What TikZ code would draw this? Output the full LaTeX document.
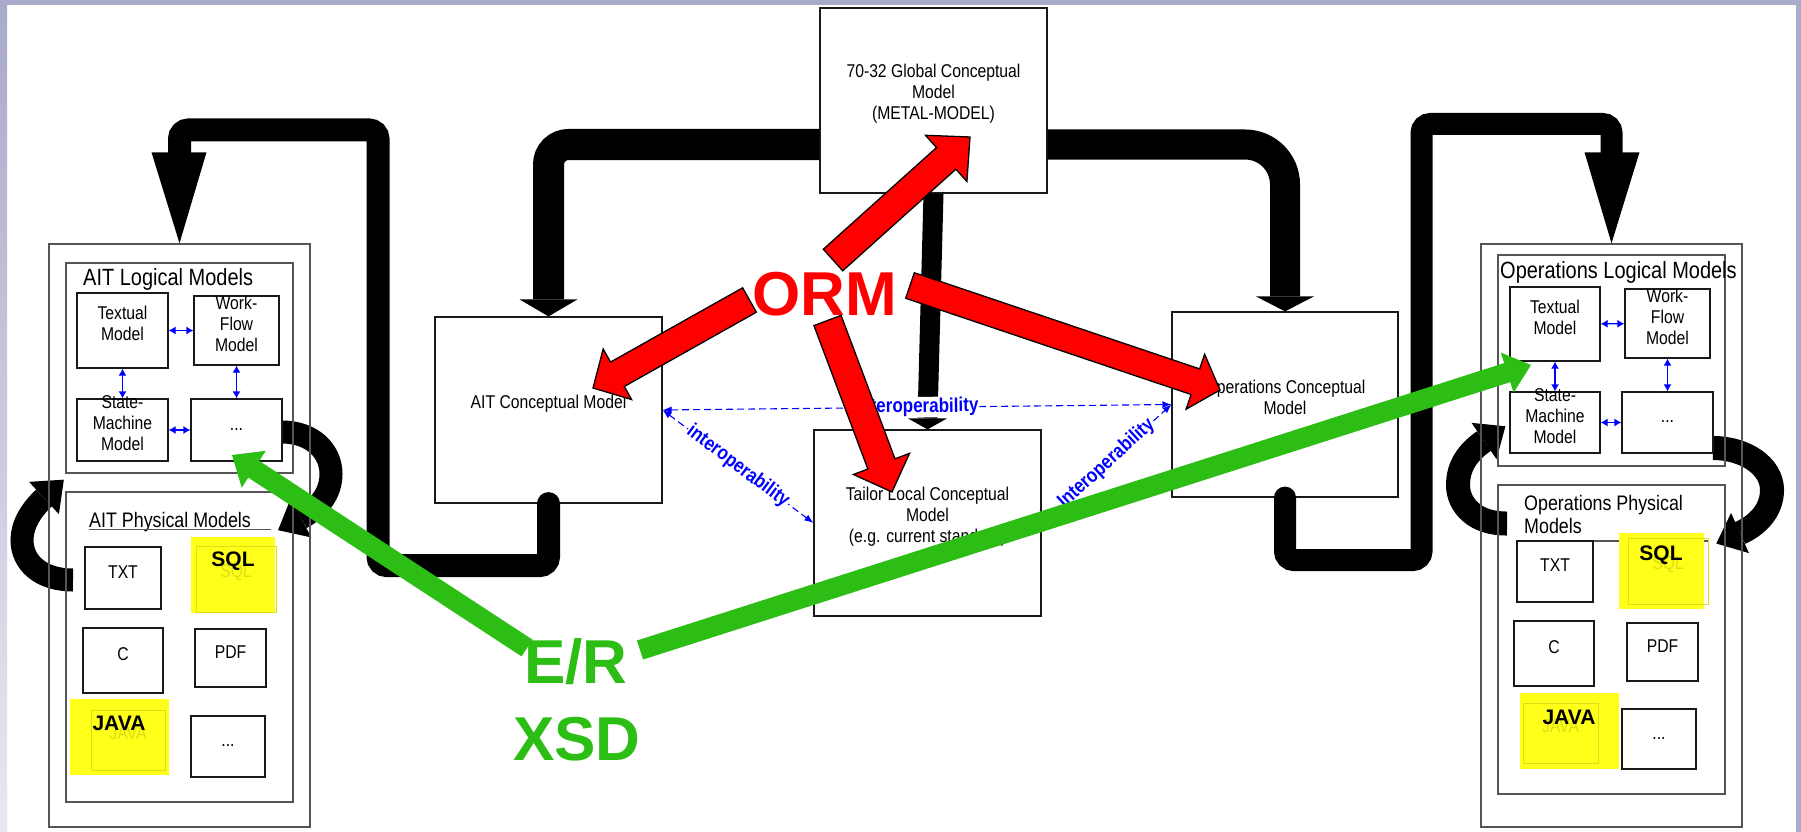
\documentclass[tikz,border=0pt]{standalone}
\usepackage{fontspec}
\setmainfont{Liberation Sans}
\newfontfamily\lab[FakeStretch=0.85]{Liberation Sans}
\usetikzlibrary{calc,fit,arrows.meta}

\definecolor{frame}{RGB}{170,170,202}
\definecolor{framelight}{RGB}{232,232,242}
\definecolor{edge}{RGB}{25,25,25}
\definecolor{groupedge}{RGB}{85,85,85}
\definecolor{hl}{RGB}{255,255,25}
\definecolor{faint}{RGB}{222,222,20}
\definecolor{ormred}{RGB}{255,0,0}
\definecolor{ergreen}{RGB}{44,190,20}
\definecolor{iop}{RGB}{0,0,255}

% block arrow: style, tail, tip, half shaft width, half head width, head length
\newcommand\blockarrow[6]{%
  \coordinate (ba-base) at ($(#3)!#6!(#2)$);
  \filldraw[#1] ($(#2)!#4!90:(#3)$) -- ($(ba-base)!#4!90:(#3)$)
    -- ($(ba-base)!#5!90:(#3)$) -- (#3)
    -- ($(ba-base)!#5!-90:(#3)$) -- ($(ba-base)!#4!-90:(#3)$)
    -- ($(#2)!#4!-90:(#3)$) -- cycle;
}
% head of a thick bent arrow: base point, point behind it, half width, length
\newcommand\bendhead[4]{%
  \fill ($(#1)!#3!90:(#2)$) -- ($(#1)!-#4!(#2)$) -- ($(#1)!#3!-90:(#2)$) -- cycle;
}

\begin{document}
\begin{tikzpicture}[x=1pt,y=-1pt,
  lbl/.style={font=\lab\fontsize{18.5}{21}\selectfont},
  box/.style={draw=edge, line width=1.2pt, fill=white, inner sep=0pt, align=center, lbl},
  group/.style={draw=groupedge, line width=1.4pt, inner sep=0pt},
  hlbox/.style={fill=hl, inner sep=0pt},
  faintbox/.style={draw=faint, line width=1pt, inner sep=0pt, lbl, text=faint},
  tag/.style={font=\bfseries\fontsize{21}{24}\selectfont, inner sep=0pt},
  title/.style={anchor=base west, inner sep=0pt, font=\lab\fontsize{23.5}{26}\selectfont},
  subtitle/.style={anchor=base west, inner sep=0pt, font=\lab\fontsize{21}{23}\selectfont},
  bidir/.style={iop, line width=1.2pt, {Latex[length=7pt,width=8pt]}-{Latex[length=7pt,width=8pt]}},
  iopline/.style={iop, line width=1.1pt, dash pattern=on 7pt off 4pt,
    {Latex[length=9pt,width=7pt]}-{Latex[length=9pt,width=7pt]}},
  ioplabel/.style={fill=white, inner sep=1pt, text=iop, sloped,
    font=\lab\bfseries\fontsize{20}{22}\selectfont},
  flowline/.style={draw=black, line width=#1},
  ormarrow/.style={fill=ormred, draw=black, line width=1.3pt, line join=miter},
  erarrow/.style={fill=ergreen, draw=none},
  bigword/.style={font=\bfseries\fontsize{62}{62}\selectfont, anchor=base, inner sep=0pt},
]
\useasboundingbox (0,0) rectangle (1801,832);

% page frame
\fill[white] (0,0) rectangle (1801,832);
\fill[frame] (0,0) rectangle (1801,5);
\shade[top color=frame, bottom color=framelight] (0,5) rectangle (7,832);
\fill[frame] (1796,0) rectangle (1801,832);

% conceptual models
\node[box, fit={(820,8) (1047,193)}] (global) {70-32 Global Conceptual\\Model\\(METAL-MODEL)};
\node[box, fit={(435,317) (662,503)}] (aitConc) {AIT Conceptual Model};
\node[box, fit={(1172,312) (1398,497)}] (opsConc) {Operations Conceptual\\Model};
\node[box, fit={(814,430) (1041,616)}] (tailor) {Tailor Local Conceptual\\Model\\(e.g. current standard)};

% derivation from the global model
\draw[flowline=31pt, rounded corners=20pt] ($(global.west)+(0,44)$) -| ($(aitConc.north)+(0,-17)$);
\fill (aitConc.north) -- +(-29,-17) -- +(29,-17) -- cycle;
\draw[flowline=30pt, rounded corners=40pt] ($(global.east)+(0,44)$) -| ($(opsConc.north)+(0,-15)$);
\fill (opsConc.north) -- +(-29,-15) -- +(29,-15) -- cycle;
\draw[flowline=20pt] (global.south) -- ($(tailor.north)+(0,-11)$);
\fill (tailor.north) -- +(-19.5,-11) -- +(19.5,-11) -- cycle;

% round trips between logical and physical models
\coordinate (aUp) at (73,580);
\draw[line width=23pt] (aUp) .. controls (40,580) and (22,562) .. (22,540)
  .. controls (22,525) and (31,510) .. (44,498);
\bendhead{44,498}{31,510}{22pt}{27pt}
\coordinate (aDown) at (282,432);
\draw[line width=23pt] (aDown) .. controls (312,432) and (331,451) .. (331,474)
  .. controls (331,494) and (318,509) .. (301,518);
\bendhead{301,518}{318,509}{22pt}{26pt}
\coordinate (oUp) at (1507,523.5);
\draw[line width=24pt] (oUp) .. controls (1475,524) and (1458,505) .. (1458,485)
  .. controls (1458,466) and (1468,452) .. (1484,441);
\bendhead{1484,441}{1468,452}{22pt}{26pt}
\coordinate (oDown) at (1713,448);
\draw[line width=24pt] (oDown) .. controls (1745,448) and (1772,466) .. (1772,490)
  .. controls (1772,510) and (1758,525) .. (1740,533);
\bendhead{1740,533}{1758,525}{22pt}{26pt}

% AIT side
\node[group, fit={(49,244) (310,827)}] (aitOuter) {};
\node[group, fit={(66,263) (293,473)}] (aitLog) {};
\node[group, fit={(66,492) (293,802)}] (aitPhy) {};
\node[title] (aitLogT) at (83,285) {AIT Logical Models};
\node[box, fit={(77,293) (168,368)}] (aitText) {Textual\\Model};
\node[box, fit={(194,296) (279,365)}] (aitWork) {Work-\\Flow\\Model};
\node[box, fit={(77,399) (168,461)}] (aitState) {State-\\Machine\\Model};
\node[box, fit={(191,399) (282,461)}] (aitDots) {...};
\draw[bidir] (aitText) -- (aitWork);
\draw[bidir] (aitText) -- (aitState);
\draw[bidir] (aitWork) -- (aitDots);
\draw[bidir] (aitState) -- (aitDots);
\node[subtitle] (aitPhyT) at (89,527) {AIT Physical Models};
\draw[groupedge, line width=1.2pt] (89,529.5) -- (271,529.5);
\node[box, fit={(85,547) (161,609)}] (aitTXT) {TXT};
\node[hlbox, fit={(191,537) (275,613)}] (aitSQLhl) {};
\node[faintbox, fit={(196,546) (276,612)}] (aitSQL) {SQL};
\node[tag] (aitSQLtag) at (233,561) {SQL};
\node[box, fit={(83,628) (163,693)}] (aitC) {C};
\node[box, fit={(195,629) (266,687)}] (aitPDF) {PDF};
\node[hlbox, fit={(70,699) (169,775)}] (aitJAVAhl) {};
\node[faintbox, fit={(91,710) (165,770)}] (aitJAVA) {JAVA};
\node[tag] (aitJAVAtag) at (119,723) {JAVA};
\node[box, fit={(191,716) (265,777)}] (aitMore) {...};

% Operations side
\node[group, fit={(1481,244) (1742,827)}] (opsOuter) {};
\node[group, fit={(1498,255) (1725,466)}] (opsLog) {};
\node[group, fit={(1498,485) (1725,794)}] (opsPhy) {};
\node[title] (opsLogT) at (1500,278) {Operations Logical Models};
\node[box, fit={(1510,287) (1600,361)}] (opsText) {Textual\\Model};
\node[box, fit={(1625,289) (1710,358)}] (opsWork) {Work-\\Flow\\Model};
\node[box, fit={(1510,392) (1600,453)}] (opsState) {State-\\Machine\\Model};
\node[box, fit={(1622,392) (1713,453)}] (opsDots) {...};
\draw[bidir] (opsText) -- (opsWork);
\draw[bidir] (opsText) -- (opsState);
\draw[bidir] (opsWork) -- (opsDots);
\draw[bidir] (opsState) -- (opsDots);
\node[subtitle] (opsPhyT) at (1524,510) {Operations Physical};
\node[subtitle] (opsPhyT2) at (1524,533) {Models};
\draw[groupedge, line width=1.2pt] (1517,541) -- (1708,541);
\node[box, fit={(1517,541) (1593,602)}] (opsTXT) {TXT};
\node[hlbox, fit={(1619,533) (1704,609)}] (opsSQLhl) {};
\node[faintbox, fit={(1628,538) (1708,604)}] (opsSQL) {SQL};
\node[tag] (opsSQLtag) at (1661,555) {SQL};
\node[box, fit={(1514,621) (1594,686)}] (opsC) {C};
\node[box, fit={(1627,623) (1698,681)}] (opsPDF) {PDF};
\node[hlbox, fit={(1520,693) (1619,769)}] (opsJAVAhl) {};
\node[faintbox, fit={(1523,703) (1598,763)}] (opsJAVA) {JAVA};
\node[tag] (opsJAVAtag) at (1569,717) {JAVA};
\node[box, fit={(1622,709) (1696,769)}] (opsMore) {...};

% conceptual to logical
\draw[flowline=23pt, line cap=round, rounded corners=9pt] (aitConc.south) -- ++(0,62) -| (378,130)
  -| ($(aitOuter.north)+(0,-91)$);
\fill (aitOuter.north) -- +(-28,-91) -- +(27,-91) -- cycle;
\draw[flowline=22pt, line cap=round, rounded corners=9pt] (opsConc.south) -- ++(0,62.5) -| (1421.5,124)
  -| ($(opsOuter.north)+(0,-91)$);
\fill (opsOuter.north) -- +(-27,-91) -- +(28,-91) -- cycle;

% interoperability
\draw[iopline] (aitConc.east) -- node[ioplabel] (iopTop) {interoperability} (opsConc.west);
\draw[iopline] (aitConc.east) -- node[ioplabel] (iopLeft) {interoperability} (tailor.west);
\draw[iopline] (tailor.east) -- node[ioplabel] (iopRight) {Interoperability} (opsConc.west);

% ORM
\coordinate (ormT1) at (833,260);   \coordinate (ormH1) at (970,137);
\coordinate (ormT2) at (749.5,300); \coordinate (ormH2) at (593,388);
\coordinate (ormT3) at (827.5,320.5); \coordinate (ormH3) at (892,492);
\coordinate (ormT4) at (910,285.5); \coordinate (ormH4) at (1220,390);
\blockarrow{ormarrow}{ormT1}{ormH1}{14.5pt}{31pt}{32pt}
\blockarrow{ormarrow}{ormT2}{ormH2}{14pt}{29pt}{28pt}
\blockarrow{ormarrow}{ormT3}{ormH3}{14.5pt}{30pt}{30pt}
\blockarrow{ormarrow}{ormT4}{ormH4}{13.5pt}{29pt}{26pt}
\node[bigword, text=ormred] (orm) at (824.5,315) {ORM};

% E/R and XSD
\coordinate (erT1) at (527,648); \coordinate (erH1) at (232,455);
\coordinate (erT2) at (640,650); \coordinate (erH2) at (1531,365);
\blockarrow{erarrow}{erT1}{erH1}{10pt}{22pt}{26pt}
\blockarrow{erarrow}{erT2}{erH2}{10pt}{21pt}{25pt}
\node[bigword, text=ergreen] (er) at (576,683) {E/R};
\node[bigword, text=ergreen] (xsd) at (577,760) {XSD};
\end{tikzpicture}
\end{document}
